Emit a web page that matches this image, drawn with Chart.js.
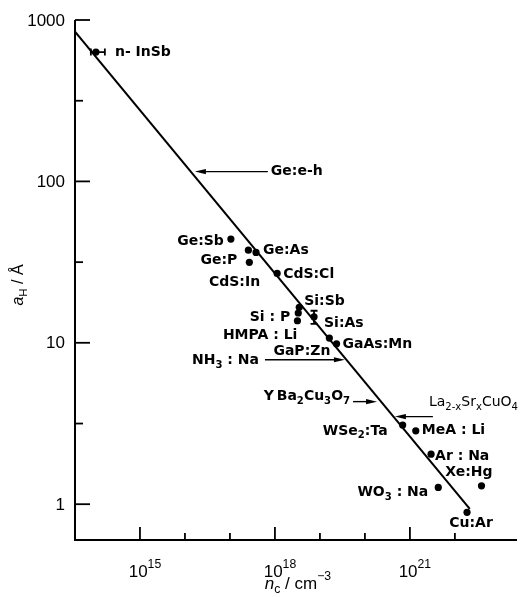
<!DOCTYPE html>
<html>
<head>
<meta charset="utf-8">
<script src="https://cdn.jsdelivr.net/npm/chart.js@4/dist/chart.umd.min.js"></script>
<style>
  html, body { margin: 0; background: #fff; }
</style>
</head>
<body>
<canvas id="chart" width="527" height="597"></canvas>
<script>
// critical densities (cm^-3) and effective Bohr radii (Å) of each system
const systems = ['n-InSb', 'Ge:Sb', 'Ge:As', 'Ge:As (2)', 'Ge:P', 'CdS:Cl', 'Si:Sb', 'Si:P', 'HMPA:Li', 'Si:As',
  'GaP:Zn', 'GaAs:Mn', 'WSe2:Ta', 'MeA:Li', 'Ar:Na', 'Xe:Hg', 'WO3:Na', 'Cu:Ar'];
const nc = [1.05e14, 1.05e17, 2.57e17, 3.8e17, 2.7e17, 1.12e18, 3.47e18, 3.3e18, 3.16e18, 7.4e18,
  1.62e19, 2.34e19, 6.9e20, 1.35e21, 2.95e21, 3.9e22, 4.27e21, 1.86e22];
const aH = [633, 43.9, 37.5, 36.3, 31.5, 26.9, 16.6, 15.3, 13.7, 14.5,
  10.7, 9.86, 3.09, 2.85, 2.04, 1.30, 1.27, 0.89];

// error ranges
const insbRange = [8.1e13, 1.66e14];   // n-InSb, along n
const siAsRange = [13.1, 15.8];        // Si:As, along a_H

// Mott line  n^(1/3) a_H = 0.26, end points
const lineN = [3.6e13, 2.14e22];
const lineA = [847, 0.935];

// systems marked only by an arrow onto the line
const arrowText = ['Ge:e-h', 'NH_3 : Na', 'Y\u2009Ba_2Cu_3O_7', 'La_{2-x}Sr_{x}CuO_4'];
const arrowN = [1.66e16, 3.6e19, 1.86e20, 4.64e20];
const arrowA = [115, 7.85, 4.32, 3.49];

// axis ticks
const yMajor = [1, 10, 100, 1000];
const yMinor = [3.16, 31.6, 316];
const xMajor = [1e15, 1e18, 1e21];
const xExp = ['15', '18', '21'];
const xMinor = [1e16, 1e17, 1e19, 1e20, 1e22];

// point labels: text, point index, offset from the point, alignment
const pointLabels = [
  ['n- InSb', 0, 19, 0, 'left'],
  ['Ge:Sb', 1, -7, 2, 'right'],
  ['Ge:As', 3, 7, -2, 'left'],
  ['Ge:P', 4, -12, -2, 'right'],
  ['CdS:Cl', 5, 6, 1, 'left'],
  ['CdS:In', 5, -17, 9, 'right'],
  ['Si:Sb', 6, 5, -6, 'left'],
  ['Si : P', 7, -8, 4, 'right'],
  ['HMPA : Li', 8, 0, 15, 'right'],
  ['Si:As', 9, 10, 7, 'left'],
  ['GaP:Zn', 10, 1, 13, 'right'],
  ['GaAs:Mn', 11, 6, 1, 'left'],
  ['WSe_2:Ta', 12, -15, 6, 'right'],
  ['MeA : Li', 13, 6, 0, 'left'],
  ['Ar : Na', 14, 4, 2, 'left'],
  ['Xe:Hg', 15, 11, -13, 'right'],
  ['WO_3 : Na', 16, -10, 5, 'right'],
  ['Cu:Ar', 17, 4, 11, 'center']
];
// arrow layout: tail offset from tip, label offset from tip, label alignment, font size, weight
const arrowLayout = [
  [73, 76, 0, 'left', 14, 'bold'],
  [-80, -86, 1, 'right', 14, 'bold'],
  [-24, -27, -5, 'right', 14, 'bold'],
  [38, 34, -14, 'left', 14, 'normal']
];

const LABEL_FAMILY = '"DejaVu Sans"';
const TICK_FAMILY = '"Liberation Sans", Arial, sans-serif';

// split "A_2^{-x}*n*" style strings into runs
function parseRich(s) {
  const runs = [];
  let italic = false, i = 0, buf = '';
  const flush = () => { if (buf) runs.push({ t: buf, mode: '', italic }); buf = ''; };
  while (i < s.length) {
    const c = s[i];
    if (c === '*') { flush(); italic = !italic; i++; }
    else if (c === '_' || c === '^') {
      flush();
      let t;
      if (s[i + 1] === '{') { const j = s.indexOf('}', i); t = s.slice(i + 2, j); i = j + 1; }
      else { t = s[i + 1]; i += 2; }
      runs.push({ t, mode: c, italic });
    } else { buf += c; i++; }
  }
  flush();
  return runs;
}

function runFont(r, size, weight, family) {
  const sz = r.mode ? size * 0.72 : size;
  return (r.italic ? 'italic ' : '') + weight + ' ' + sz + 'px ' + family;
}

function drawRich(ctx, s, x, y, size, align, weight, family) {
  const runs = parseRich(s);
  let w = 0;
  runs.forEach(r => { ctx.font = runFont(r, size, weight, family); r.w = ctx.measureText(r.t).width; w += r.w; });
  let cx = align === 'right' ? x - w : align === 'center' ? x - w / 2 : x;
  ctx.textAlign = 'left';
  ctx.textBaseline = 'middle';
  runs.forEach(r => {
    ctx.font = runFont(r, size, weight, family);
    const dy = r.mode === '_' ? size * 0.32 : r.mode === '^' ? -size * 0.42 : 0;
    ctx.fillText(r.t, cx, y + dy);
    cx += r.w;
  });
}

function arrow(ctx, x0, y, x1) {
  const dir = Math.sign(x1 - x0);
  ctx.beginPath();
  ctx.moveTo(x0, y);
  ctx.lineTo(x1 - dir * 6, y);
  ctx.stroke();
  ctx.beginPath();
  ctx.moveTo(x1, y);
  ctx.lineTo(x1 - dir * 11, y - 2.6);
  ctx.lineTo(x1 - dir * 11, y + 2.6);
  ctx.closePath();
  ctx.fill();
}

const decorations = {
  id: 'decorations',
  afterDatasetsDraw(chart) {
    const { ctx, chartArea: a, scales: { x, y } } = chart;
    ctx.save();
    ctx.strokeStyle = '#000';
    ctx.fillStyle = '#000';

    // axes
    ctx.lineWidth = 2;
    ctx.beginPath();
    ctx.moveTo(a.left, a.top);
    ctx.lineTo(a.left, a.bottom);
    ctx.lineTo(a.right, a.bottom);
    ctx.stroke();

    ctx.lineWidth = 1.8;
    yMajor.forEach(v => {
      const py = y.getPixelForValue(v);
      ctx.beginPath(); ctx.moveTo(a.left, py); ctx.lineTo(a.left + 15, py); ctx.stroke();
      ctx.font = '17px ' + TICK_FAMILY;
      ctx.textAlign = 'right'; ctx.textBaseline = 'middle';
      ctx.fillText(String(v), a.left - 10, py + 1);
    });
    yMinor.forEach(v => {
      const py = y.getPixelForValue(v);
      ctx.beginPath(); ctx.moveTo(a.left, py); ctx.lineTo(a.left + 8, py); ctx.stroke();
    });
    xMajor.forEach((v, i) => {
      const px = x.getPixelForValue(v);
      ctx.beginPath(); ctx.moveTo(px, a.bottom); ctx.lineTo(px, a.bottom - 13); ctx.stroke();
      drawRich(ctx, '10^{' + xExp[i] + '}', px + 5, a.bottom + 32, 17, 'center', 'normal', TICK_FAMILY);
    });
    xMinor.forEach(v => {
      const px = x.getPixelForValue(v);
      ctx.beginPath(); ctx.moveTo(px, a.bottom); ctx.lineTo(px, a.bottom - 7); ctx.stroke();
    });

    // axis titles
    drawRich(ctx, '*n*_c / cm^{\u22123}', 298, a.bottom + 44, 17, 'center', 'normal', TICK_FAMILY);
    ctx.save();
    ctx.translate(19, 285);
    ctx.rotate(-Math.PI / 2);
    drawRich(ctx, '*a*_H / \u00c5', 0, 0, 16, 'center', 'normal', TICK_FAMILY);
    ctx.restore();

    // error bars
    ctx.lineWidth = 1.8;
    const px0 = x.getPixelForValue(insbRange[0]), px1 = x.getPixelForValue(insbRange[1]);
    const py = y.getPixelForValue(aH[0]);
    ctx.beginPath();
    ctx.moveTo(px0, py); ctx.lineTo(px1, py);
    ctx.moveTo(px0, py - 3.5); ctx.lineTo(px0, py + 3.5);
    ctx.moveTo(px1, py - 3.5); ctx.lineTo(px1, py + 3.5);
    ctx.stroke();
    const pxs = x.getPixelForValue(nc[9]);
    const py0 = y.getPixelForValue(siAsRange[0]), py1 = y.getPixelForValue(siAsRange[1]);
    ctx.beginPath();
    ctx.moveTo(pxs, py0); ctx.lineTo(pxs, py1);
    ctx.moveTo(pxs - 3.5, py0); ctx.lineTo(pxs + 3.5, py0);
    ctx.moveTo(pxs - 3.5, py1); ctx.lineTo(pxs + 3.5, py1);
    ctx.stroke();

    // point labels
    pointLabels.forEach(([text, idx, dx, dy, align]) => {
      const px = x.getPixelForValue(nc[idx]);
      const pyy = y.getPixelForValue(aH[idx]);
      drawRich(ctx, text, px + dx, pyy + dy, 14, align, 'bold', LABEL_FAMILY);
    });

    // arrow labels
    ctx.lineWidth = 1.4;
    arrowText.forEach((text, i) => {
      const [tail, lx, ly, align, size, weight] = arrowLayout[i];
      const tx = x.getPixelForValue(arrowN[i]);
      const ty = y.getPixelForValue(arrowA[i]);
      arrow(ctx, tx + tail, ty, tx);
      drawRich(ctx, text, tx + lx, ty + ly, size, align, weight, LABEL_FAMILY);
    });
    ctx.restore();
  }
};

new Chart(document.getElementById('chart').getContext('2d'), {
  type: 'scatter',
  data: {
    datasets: [{
      type: 'line',
      data: lineN.map((n, i) => ({ x: n, y: lineA[i] })),
      borderColor: '#000',
      borderWidth: 2,
      pointRadius: 0,
      fill: false
    }, {
      data: nc.map((n, i) => ({ x: n, y: aH[i] })),
      backgroundColor: '#000',
      borderWidth: 0,
      pointRadius: 3.6
    }]
  },
  options: {
    responsive: false,
    animation: false,
    devicePixelRatio: 1,
    layout: { padding: { left: 75, top: 20, right: 10, bottom: 57 } },
    plugins: { legend: { display: false }, tooltip: { enabled: false } },
    scales: {
      x: { type: 'logarithmic', min: 3.6e13, max: 2.4e23, display: false },
      y: { type: 'logarithmic', min: 0.617, max: 1000, display: false }
    }
  },
  plugins: [decorations]
});
</script>
</body>
</html>
